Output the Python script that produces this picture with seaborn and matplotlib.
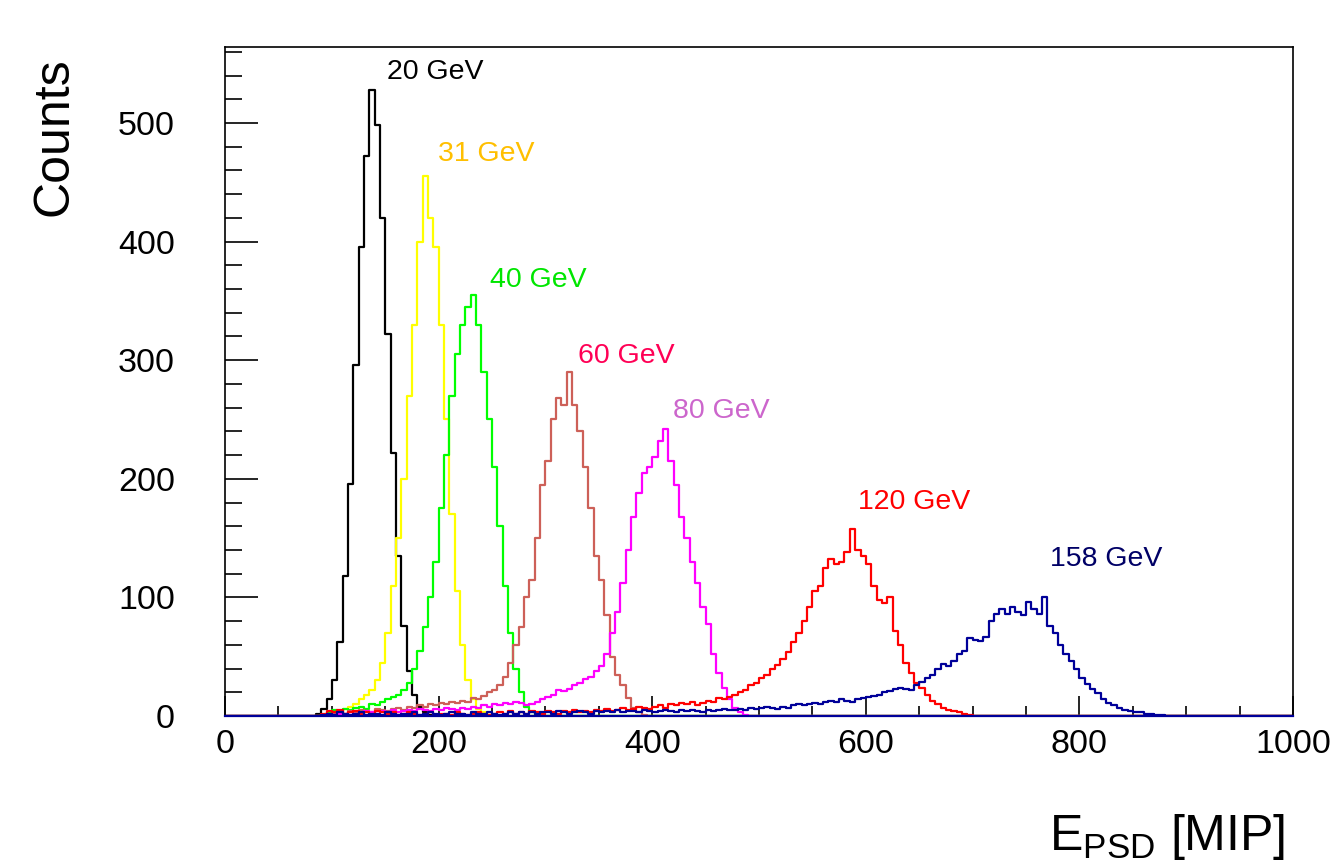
import matplotlib
matplotlib.use("Agg")
import matplotlib.pyplot as plt
from matplotlib.ticker import MultipleLocator
import seaborn as sns

# ------------------------------------------------------------------------------------------------------------------- #
# data: counts per 5 MIP bin, each series starts at its own first bin edge

bin_width = 5

e20_start = 85
e20_counts = [2, 6, 14, 30, 62, 118, 196, 296, 395, 472, 528, 498, 420, 322, 222, 135, 76, 38, 18, 8, 3, 1]

e31_start = 95
e31_counts = [2, 4, 3, 6, 8, 10, 14, 18, 22, 30, 45, 70, 110, 150, 200, 270, 330, 400, 455, 420,
              395, 330, 250, 170, 105, 60, 30, 14, 6, 3, 1]

e40_start = 95
e40_counts = [3, 5, 4, 6, 5, 7, 8, 6, 10, 9, 12, 14, 16, 18, 22, 28, 40, 55, 75, 100,
              130, 175, 220, 270, 305, 330, 345, 355, 330, 290, 250, 210, 160, 110, 70, 40, 20, 8, 3]

e60_start = 100
e60_counts = [2, 3, 2, 4, 3, 5, 4, 3, 6, 5, 4, 6, 7, 5, 8, 7, 9, 8, 10, 9,
              11, 10, 12, 11, 13, 12, 15, 14, 17, 20, 22, 26, 33, 45, 60, 75, 100, 115, 150, 195,
              215, 250, 268, 262, 290, 262, 240, 210, 175, 135, 115, 85, 50, 35, 26, 15, 7, 3, 1]

e80_start = 100
e80_counts = [1, 2, 1, 3, 2, 2, 4, 3, 2, 4, 3, 5, 3, 4, 5, 4, 6, 5, 4, 6,
              5, 7, 6, 5, 7, 6, 8, 7, 9, 8, 10, 9, 11, 10, 12, 11, 9, 10, 12, 14,
              16, 18, 22, 21, 23, 26, 28, 31, 33, 38, 42, 52, 70, 88, 112, 140, 168, 188, 205, 210,
              218, 232, 242, 215, 195, 168, 150, 130, 112, 92, 78, 52, 36, 24, 14, 7, 3, 1]

e120_start = 90
e120_counts = [2, 4, 3, 5, 2, 3, 4, 2, 3, 2, 4,
               3, 2, 3, 1, 2, 3, 2, 1, 2, 3, 1,
               2, 2, 1, 3, 2, 1, 2, 3, 2, 1, 2,
               3, 2, 4, 2, 3, 2, 4, 3, 2, 4, 3,
               2, 4, 3, 5, 3, 4, 3, 5, 4, 6, 4,
               5, 7, 5, 6, 8, 7, 6, 8, 9, 7, 10,
               9, 11, 10, 12, 9, 11, 13, 12, 15, 14, 16,
               18, 20, 22, 26, 28, 32, 35, 40, 43, 48, 54,
               62, 70, 80, 92, 105, 110, 125, 132, 128, 130, 138,
               158, 140, 135, 128, 110, 98, 95, 100, 72, 60, 45,
               36, 28, 24, 18, 13, 10, 7, 5, 4, 3, 2, 1]

e158_start = 90
e158_counts = [1, 2, 1, 3, 2, 1, 2, 3, 1, 2, 2, 1, 3, 2, 1, 2, 2, 3, 1, 2,
               3, 2, 1, 2, 3, 2, 2, 1, 3, 2, 2, 3, 2, 1, 2, 3, 2, 3, 2, 3,
               2, 3,
               3, 2, 4, 3, 2, 3, 4, 3, 2, 4, 3, 4, 3, 5, 3, 4, 4, 3, 5, 4,
               3, 4, 5, 4, 3, 5, 4, 5, 4, 3, 5, 4, 5, 6, 5,
               5, 6, 5, 7, 6, 7, 8, 7, 6, 8, 7, 9, 10, 9, 10, 11, 10, 12, 13, 12,
               14, 13, 12, 14, 15, 16, 17, 18, 20, 21, 23, 24, 23, 22, 26, 29, 32, 35, 40, 44,
               42, 46, 52, 55, 66, 64, 63, 67, 80, 86, 90, 86, 92, 88, 85, 96, 90, 86, 100, 76,
               70, 60, 52, 46, 40, 32, 27, 23, 19, 14, 11, 9, 7, 5, 4, 3, 3, 2, 2, 1, 1]

energies = ["20 GeV", "31 GeV", "40 GeV", "60 GeV", "80 GeV", "120 GeV", "158 GeV"]

# ------------------------------------------------------------------------------------------------------------------- #

series = [
    (e20_start, e20_counts, "black"),
    (e31_start, e31_counts, "#ffff00"),
    (e40_start, e40_counts, "#00ff00"),
    (e60_start, e60_counts, "#cd6058"),
    (e80_start, e80_counts, "#ff00ff"),
    (e120_start, e120_counts, "#ff0000"),
    (e158_start, e158_counts, "#000099"),
]

label_style = [
    (151.7, 537, "black"),
    (199.4, 468, "#ffbf00"),
    (248.0, 362, "#00e600"),
    (330.5, 297.6, "#ff0055"),
    (419.5, 251, "#cc66cc"),
    (592.7, 174.5, "#ff0000"),
    (772.5, 126.5, "#000066"),
]

sns.set_style("ticks")
plt.rcParams['font.family'] = ['Liberation Sans', 'DejaVu Sans']
plt.rcParams['mathtext.default'] = 'regular'

fig = plt.figure(figsize=(13.34, 8.63), dpi=100)
ax = fig.add_axes([0.1687, 0.1703, 0.8006, 0.7752])

edges = list(range(0, 1000 + bin_width, bin_width))

for start, counts, color in series:
    centers = [start + bin_width / 2 + bin_width * i for i in range(len(counts))]
    sns.histplot(x=centers, weights=counts, bins=edges, element="step", fill=False,
                 color=color, linewidth=1.6, ax=ax)

for name, (tx, ty, color) in zip(energies, label_style):
    ax.text(tx, ty, name, color=color, fontsize=20.5, ha="left", va="baseline")

ax.set_xlim(0, 1000)
ax.set_ylim(0, 564)

ax.xaxis.set_major_locator(MultipleLocator(200))
ax.xaxis.set_minor_locator(MultipleLocator(50))
ax.yaxis.set_major_locator(MultipleLocator(100))
ax.yaxis.set_minor_locator(MultipleLocator(20))

ax.tick_params(axis="both", which="both", direction="in", top=False, right=False,
               color="black", labelcolor="black", width=1.2, labelsize=24.5)
ax.tick_params(axis="y", which="major", length=24, pad=36)
ax.tick_params(axis="y", which="minor", length=12)
ax.tick_params(axis="x", which="major", length=14.5, pad=9)
ax.tick_params(axis="x", which="minor", length=7.5)

for side in ["left", "right", "top", "bottom"]:
    ax.spines[side].set_visible(True)
    ax.spines[side].set_color("black")
    ax.spines[side].set_linewidth(1.2)
# last histogram (158 GeV) runs along zero over the whole range
ax.spines["bottom"].set_color("#000099")
ax.spines["bottom"].set_linewidth(1.6)

ax.set_ylabel("Counts", fontsize=36, loc="top", color="black")
ax.yaxis.set_label_coords(-0.1386, 0.985)
ax.set_xlabel("E$_{PSD}$ [MIP]", fontsize=36, loc="right", color="black")
ax.xaxis.set_label_coords(0.9925, -0.1435)

fig.savefig("out.png", dpi=100)
